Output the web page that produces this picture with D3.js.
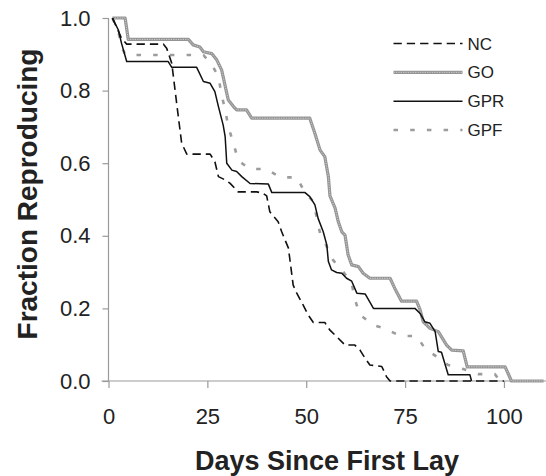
<!DOCTYPE html>
<html><head><meta charset="utf-8">
<script src="https://cdn.jsdelivr.net/npm/d3@7"></script>
<style>body{margin:0;background:#fff}svg{display:block}</style>
</head><body>
<svg id="c" width="546" height="476"></svg>
<script>
const seriesNames = ["NC", "GO", "GPR", "GPF"];
const xTicks = [0, 25, 50, 75, 100];
const yTicks = [0, 0.2, 0.4, 0.6, 0.8, 1.0];

const ncDays  = [1, 3.3, 4.6, 13.9, 14.7, 16.0, 17.6, 18.5, 19.8, 25.7, 26.9, 27.8, 29.5, 30.7, 32.8, 37.5, 39.1, 40.0, 40.8, 42.9, 43.8, 45.5, 46.7, 47.6, 48.8, 50.5, 51.8, 54.7, 56.0, 57.7, 59.8, 62.3, 63.6, 64.9, 66.1, 67.8, 69.1, 70.3, 71.2, 100];
const ncFrac  = [1, 0.944, 0.928, 0.928, 0.917, 0.875, 0.733, 0.655, 0.625, 0.625, 0.604, 0.563, 0.554, 0.545, 0.521, 0.521, 0.517, 0.51, 0.466, 0.439, 0.411, 0.366, 0.264, 0.242, 0.218, 0.182, 0.161, 0.161, 0.14, 0.122, 0.099, 0.099, 0.085, 0.0625, 0.044, 0.042, 0.04, 0.012, 0, 0];

const goDays  = [1, 4.2, 5.0, 20.2, 21.4, 23.1, 24.0, 26.1, 27.4, 28.6, 29.0, 29.9, 30.3, 31.6, 32.4, 34.9, 36.2, 50.9, 52.2, 53.5, 54.7, 55.6, 56.0, 57.3, 58.1, 59.0, 59.8, 60.6, 61.5, 63.2, 64.4, 66.1, 71.2, 72.4, 74.1, 77.9, 78.8, 79.6, 81.3, 83.4, 85.5, 86.8, 89.7, 90.7, 100.3, 101.9, 110];
const goFrac  = [1, 1, 0.941, 0.941, 0.926, 0.92, 0.907, 0.902, 0.884, 0.857, 0.838, 0.793, 0.774, 0.756, 0.747, 0.747, 0.724, 0.724, 0.682, 0.636, 0.618, 0.563, 0.51, 0.476, 0.439, 0.411, 0.402, 0.347, 0.32, 0.315, 0.297, 0.283, 0.283, 0.255, 0.22, 0.22, 0.196, 0.163, 0.145, 0.136, 0.099, 0.085, 0.083, 0.039, 0.039, 0, 0];

const gprDays = [1, 1.2, 2.5, 3.3, 4.6, 15.1, 16.0, 22.3, 24.0, 25.7, 26.9, 27.8, 29.0, 29.5, 29.9, 31.2, 32.4, 33.7, 35.8, 40.4, 41.3, 49.7, 50.9, 52.2, 53.0, 54.3, 55.2, 55.6, 56.4, 57.7, 59.0, 60.2, 61.5, 62.8, 64.9, 67.0, 77.5, 78.8, 80.0, 81.3, 82.6, 83.4, 84.2, 85.9, 91.4, 91.8];
const gprFrac = [1, 0.995, 0.967, 0.93, 0.88, 0.88, 0.864, 0.864, 0.825, 0.82, 0.797, 0.756, 0.705, 0.673, 0.6, 0.581, 0.577, 0.563, 0.544, 0.543, 0.519, 0.519, 0.508, 0.485, 0.448, 0.411, 0.375, 0.329, 0.306, 0.299, 0.297, 0.283, 0.275, 0.242, 0.24, 0.2, 0.2, 0.186, 0.163, 0.159, 0.136, 0.081, 0.079, 0.017, 0.017, 0];

const gpfDays = [1, 2.5, 3.3, 4.2, 6.3, 24.0, 26.2, 27.8, 28.6, 29.5, 30.3, 31.6, 32.8, 35.8, 40.0, 43.4, 47.6, 49.7, 51.8, 53.5, 55.2, 56.8, 59.0, 61.5, 62.3, 63.6, 67.0, 70.3, 73.7, 77.9, 80.0, 83.0, 85.9, 89.7, 93.5, 97.7, 99.0];
const gpfFrac = [1, 0.963, 0.92, 0.9, 0.898, 0.898, 0.87, 0.838, 0.788, 0.747, 0.70, 0.655, 0.607, 0.584, 0.584, 0.561, 0.561, 0.519, 0.494, 0.407, 0.37, 0.333, 0.306, 0.269, 0.225, 0.182, 0.154, 0.143, 0.124, 0.124, 0.09, 0.067, 0.044, 0.033, 0.019, 0.019, 0];

const svg = d3.select("#c");
const x = d3.scaleLinear().domain([0, 110]).range([108.5, 543.5]);
const y = d3.scaleLinear().domain([0, 1]).range([381, 18]);
const axisColor = "#9a9a9a";
const font = "Liberation Sans, Arial, sans-serif";

// axes
const gx = svg.append("g").attr("transform", "translate(0,381)")
  .call(d3.axisBottom(x).tickValues(xTicks).tickSize(7).tickPadding(20).tickFormat(d3.format("d")));
const gy = svg.append("g").attr("transform", "translate(108.5,0)")
  .call(d3.axisLeft(y).tickValues(yTicks).tickSize(6).tickPadding(12).tickFormat(d3.format(".1f")));
[gx, gy].forEach(g => {
  g.select(".domain").attr("stroke", axisColor).attr("stroke-width", 1.2);
  g.selectAll(".tick line").attr("stroke", axisColor).attr("stroke-width", 1.2);
  g.selectAll(".tick text").attr("fill", "#222").style("font-family", font).style("font-size", "22px");
});
gx.select(".domain").attr("d", `M${x(0) - 7},0H546`);
gy.select(".domain").attr("d", `M0,${y(1)}V${y(0)}`);

const line = d3.line().x(d => x(d[0])).y(d => y(d[1]));
const zip = (a, b) => a.map((v, i) => [v, b[i]]);

const styles = {
  NC:  [{stroke: "#111", width: 1.6, dash: "8.3,5"}],
  GO:  [{stroke: "#959595", width: 3.2, dash: null}, {stroke: "#d0d0d0", width: 1, dash: "1.2,1.2"}],
  GPR: [{stroke: "#111", width: 1.5, dash: null}],
  GPF: [{stroke: "#9c9c9c", width: 2.6, dash: "4.5,12.2"}]
};
const data = {
  NC: zip(ncDays, ncFrac),
  GO: zip(goDays, goFrac),
  GPR: zip(gprDays, gprFrac),
  GPF: zip(gpfDays, gpfFrac)
};

const order = ["GO", "GPF", "GPR", "NC"];
order.forEach(name => {
  styles[name].forEach(s => {
    svg.append("path").datum(data[name]).attr("d", line)
      .attr("fill", "none").attr("stroke", s.stroke).attr("stroke-width", s.width)
      .attr("stroke-dasharray", s.dash).attr("stroke-linejoin", "round");
  });
});

// legend
const legY = d3.scalePoint().domain(seriesNames).range([43.5, 130]);
seriesNames.forEach(name => {
  const yy = legY(name);
  styles[name].forEach(s => {
    svg.append("line").attr("x1", 393.5).attr("x2", 462.5).attr("y1", yy).attr("y2", yy)
      .attr("stroke", s.stroke).attr("stroke-width", s.width).attr("stroke-dasharray", s.dash);
  });
  svg.append("text").attr("x", 467.5).attr("y", yy).attr("dy", "0.36em")
    .attr("fill", "#222").style("font-family", font).style("font-size", "17px").text(name);
});

// titles
svg.append("text").attr("x", 327).attr("y", 470).attr("text-anchor", "middle")
  .attr("fill", "#222").style("font-family", font).style("font-size", "27px").style("font-weight", "bold")
  .text("Days Since First Lay");
svg.append("text").attr("transform", "translate(37,194) rotate(-90)").attr("text-anchor", "middle")
  .attr("fill", "#222").style("font-family", font).style("font-size", "28px").style("font-weight", "bold")
  .text("Fraction Reproducing");
</script>
</body></html>
